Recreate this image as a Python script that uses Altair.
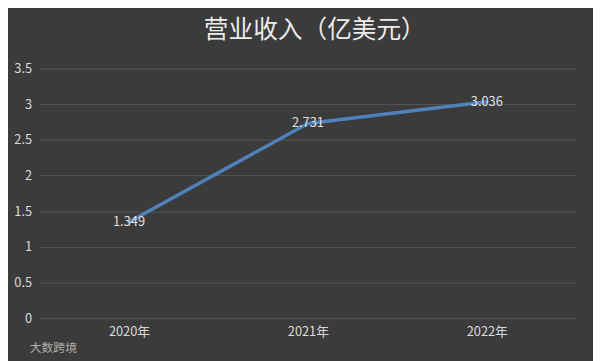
import altair as alt
import pandas as pd

years = ["2020年", "2021年", "2022年"]
revenue = [1.349, 2.731, 3.036]
labels = ["1.349", "2.731", "3.036"]
title_text = "营业收入（亿美元）"
watermark = ["大数跨境"]

df = pd.DataFrame({"year": years, "revenue": revenue, "label": labels})
FONT = "Noto Sans CJK SC"

base = alt.Chart(df).encode(
    x=alt.X("year:N", sort=years, title=None,
            scale=alt.Scale(paddingInner=0, paddingOuter=0),
            axis=alt.Axis(labelAngle=0, labelColor="#d9d9d9", labelFontSize=13,
                          labelFont=FONT, domain=False, ticks=False, grid=False,
                          labelPadding=8)),
    y=alt.Y("revenue:Q", title=None,
            scale=alt.Scale(domain=[0, 3.5], nice=False),
            axis=alt.Axis(values=[0, 0.5, 1, 1.5, 2, 2.5, 3, 3.5], format="~g",
                          labelColor="#d9d9d9",
                          labelFontSize=13, labelFont=FONT, domain=False, ticks=False,
                          gridColor="#555555", gridWidth=1, labelPadding=8)),
)

line = base.mark_line(color="#4f81bd", strokeWidth=3.5, strokeCap="round")
text = base.mark_text(color="#e0e0e0", fontSize=13, font=FONT).encode(text="label:N")

wm = alt.Chart(pd.DataFrame({"t": watermark})).mark_text(
    color="#b0b0b0", fontSize=12, font=FONT, align="left"
).encode(x=alt.value(-10), y=alt.value(283), text="t:N")

chart = alt.layer(line, text, wm).properties(
    width=544, height=253,
    autosize=alt.AutoSizeParams(type="none"),
    padding={"left": 32, "top": 59, "right": 17, "bottom": 41},
    background="#3b3b3b",
    title=alt.TitleParams(title_text, fontSize=25, color="#ececec", font=FONT,
                          fontWeight="normal", anchor="middle", offset=20, dx=7),
).configure_view(stroke=None)

chart.save("out.html", embed_options={"renderer": "svg", "actions": False})
